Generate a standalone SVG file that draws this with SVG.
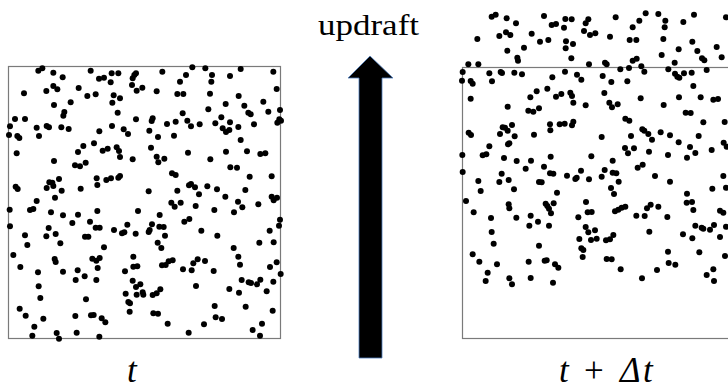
<svg xmlns="http://www.w3.org/2000/svg" width="728" height="390" viewBox="0 0 728 390">
<style>
.box{fill:none;stroke:#7a7a7a;stroke-width:1.2}
.d circle{fill:#000}
.lbl{font-family:"Liberation Serif","Times New Roman",serif;fill:#000}
.it{font-style:italic}
</style>
<rect width="728" height="390" fill="#fff"/>
<g id="panel-t">
<rect class="box" x="8.5" y="66.5" width="272" height="272"/>
<g class="d" transform="translate(0 50) scale(0.33333)">
<circle cx="115" cy="62" r="9"/><circle cx="127" cy="55" r="9"/><circle cx="160" cy="68" r="9"/><circle cx="188" cy="82" r="9"/><circle cx="272" cy="62" r="9"/><circle cx="297" cy="86" r="9"/><circle cx="312" cy="83" r="9"/><circle cx="335" cy="70" r="9"/><circle cx="355" cy="70" r="9"/><circle cx="332" cy="97" r="9"/><circle cx="398" cy="85" r="9"/><circle cx="403" cy="75" r="9"/><circle cx="408" cy="70" r="9"/><circle cx="396" cy="105" r="9"/><circle cx="410" cy="122" r="9"/><circle cx="427" cy="113" r="9"/><circle cx="470" cy="124" r="9"/><circle cx="487" cy="65" r="9"/><circle cx="540" cy="95" r="9"/><circle cx="558" cy="75" r="9"/><circle cx="577" cy="52" r="9"/><circle cx="616" cy="55" r="9"/><circle cx="636" cy="75" r="9"/><circle cx="634" cy="95" r="9"/><circle cx="690" cy="78" r="9"/><circle cx="722" cy="57" r="9"/><circle cx="820" cy="65" r="9"/><circle cx="830" cy="117" r="9"/><circle cx="72" cy="130" r="9"/><circle cx="139" cy="123" r="9"/><circle cx="160" cy="108" r="9"/><circle cx="172" cy="118" r="9"/><circle cx="236" cy="114" r="9"/><circle cx="262" cy="138" r="9"/><circle cx="287" cy="133" r="9"/><circle cx="341" cy="136" r="9"/><circle cx="360" cy="145" r="9"/><circle cx="337" cy="158" r="9"/><circle cx="532" cy="132" r="9"/><circle cx="550" cy="132" r="9"/><circle cx="630" cy="131" r="9"/><circle cx="625" cy="178" r="9"/><circle cx="677" cy="162" r="9"/><circle cx="716" cy="138" r="9"/><circle cx="733" cy="167" r="9"/><circle cx="745" cy="188" r="9"/><circle cx="752" cy="193" r="9"/><circle cx="790" cy="155" r="9"/><circle cx="805" cy="185" r="9"/><circle cx="840" cy="180" r="9"/><circle cx="838" cy="208" r="9"/><circle cx="843" cy="212" r="9"/><circle cx="832" cy="218" r="9"/>
<circle cx="162" cy="165" r="9"/><circle cx="212" cy="157" r="9"/><circle cx="193" cy="186" r="9"/><circle cx="190" cy="197" r="9"/><circle cx="45" cy="207" r="9"/><circle cx="75" cy="207" r="9"/><circle cx="30" cy="229" r="9"/><circle cx="27" cy="255" r="9"/><circle cx="52" cy="258" r="9"/><circle cx="58" cy="264" r="9"/><circle cx="110" cy="233" r="9"/><circle cx="140" cy="228" r="9"/><circle cx="147" cy="232" r="9"/><circle cx="184" cy="232" r="9"/><circle cx="206" cy="237" r="9"/><circle cx="117" cy="258" r="9"/><circle cx="50" cy="310" r="9"/><circle cx="298" cy="244" r="9"/><circle cx="336" cy="228" r="9"/><circle cx="371" cy="238" r="9"/><circle cx="384" cy="252" r="9"/><circle cx="353" cy="188" r="9"/><circle cx="408" cy="208" r="9"/><circle cx="458" cy="205" r="9"/><circle cx="455" cy="213" r="9"/><circle cx="448" cy="242" r="9"/><circle cx="474" cy="261" r="9"/><circle cx="501" cy="222" r="9"/><circle cx="527" cy="215" r="9"/><circle cx="522" cy="257" r="9"/><circle cx="548" cy="190" r="9"/><circle cx="562" cy="212" r="9"/><circle cx="573" cy="229" r="9"/><circle cx="599" cy="223" r="9"/><circle cx="646" cy="220" r="9"/><circle cx="664" cy="202" r="9"/><circle cx="690" cy="217" r="9"/><circle cx="668" cy="235" r="9"/><circle cx="678" cy="246" r="9"/><circle cx="688" cy="240" r="9"/><circle cx="715" cy="231" r="9"/><circle cx="762" cy="223" r="9"/><circle cx="722" cy="270" r="9"/>
<circle cx="234" cy="306" r="9"/><circle cx="250" cy="288" r="9"/><circle cx="282" cy="280" r="9"/><circle cx="308" cy="302" r="9"/><circle cx="323" cy="296" r="9"/><circle cx="350" cy="292" r="9"/><circle cx="357" cy="303" r="9"/><circle cx="360" cy="321" r="9"/><circle cx="398" cy="328" r="9"/><circle cx="453" cy="293" r="9"/><circle cx="470" cy="320" r="9"/><circle cx="475" cy="337" r="9"/><circle cx="493" cy="326" r="9"/><circle cx="564" cy="308" r="9"/><circle cx="631" cy="328" r="9"/><circle cx="678" cy="305" r="9"/><circle cx="741" cy="304" r="9"/><circle cx="781" cy="312" r="9"/><circle cx="796" cy="310" r="9"/><circle cx="162" cy="333" r="9"/><circle cx="225" cy="346" r="9"/><circle cx="240" cy="349" r="9"/><circle cx="257" cy="338" r="9"/>
<circle cx="691" cy="352" r="9"/><circle cx="711" cy="353" r="9"/><circle cx="749" cy="380" r="9"/><circle cx="815" cy="379" r="9"/><circle cx="516" cy="370" r="9"/><circle cx="527" cy="375" r="9"/><circle cx="290" cy="385" r="9"/><circle cx="292" cy="405" r="9"/><circle cx="319" cy="390" r="9"/><circle cx="333" cy="385" r="9"/><circle cx="355" cy="383" r="9"/><circle cx="360" cy="378" r="9"/><circle cx="47" cy="410" r="9"/><circle cx="53" cy="417" r="9"/><circle cx="140" cy="414" r="9"/><circle cx="148" cy="397" r="9"/><circle cx="157" cy="398" r="9"/><circle cx="160" cy="408" r="9"/><circle cx="165" cy="443" r="9"/><circle cx="177" cy="387" r="9"/><circle cx="185" cy="422" r="9"/><circle cx="242" cy="416" r="9"/><circle cx="446" cy="424" r="9"/><circle cx="532" cy="422" r="9"/><circle cx="542" cy="458" r="9"/><circle cx="514" cy="458" r="9"/><circle cx="524" cy="470" r="9"/><circle cx="567" cy="406" r="9"/><circle cx="573" cy="402" r="9"/><circle cx="585" cy="412" r="9"/><circle cx="597" cy="433" r="9"/><circle cx="587" cy="468" r="9"/><circle cx="622" cy="409" r="9"/><circle cx="651" cy="418" r="9"/><circle cx="676" cy="440" r="9"/><circle cx="714" cy="455" r="9"/><circle cx="736" cy="420" r="9"/><circle cx="727" cy="472" r="9"/><circle cx="702" cy="487" r="9"/><circle cx="775" cy="463" r="9"/><circle cx="815" cy="440" r="9"/><circle cx="821" cy="451" r="9"/><circle cx="831" cy="443" r="9"/><circle cx="643" cy="480" r="9"/>
<circle cx="29" cy="479" r="9"/><circle cx="90" cy="480" r="9"/><circle cx="100" cy="477" r="9"/><circle cx="110" cy="453" r="9"/><circle cx="153" cy="487" r="9"/><circle cx="189" cy="496" r="9"/><circle cx="234" cy="494" r="9"/><circle cx="217" cy="519" r="9"/><circle cx="270" cy="515" r="9"/><circle cx="292" cy="483" r="9"/><circle cx="287" cy="533" r="9"/><circle cx="299" cy="533" r="9"/><circle cx="342" cy="540" r="9"/><circle cx="366" cy="550" r="9"/><circle cx="373" cy="547" r="9"/><circle cx="382" cy="524" r="9"/><circle cx="407" cy="551" r="9"/><circle cx="414" cy="483" r="9"/><circle cx="446" cy="546" r="9"/><circle cx="449" cy="540" r="9"/><circle cx="456" cy="523" r="9"/><circle cx="479" cy="495" r="9"/><circle cx="478" cy="530" r="9"/><circle cx="491" cy="531" r="9"/><circle cx="495" cy="557" r="9"/><circle cx="30" cy="529" r="9"/><circle cx="75" cy="556" r="9"/><circle cx="82" cy="585" r="9"/><circle cx="146" cy="534" r="9"/><circle cx="139" cy="559" r="9"/><circle cx="167" cy="552" r="9"/><circle cx="181" cy="580" r="9"/><circle cx="255" cy="560" r="9"/><circle cx="265" cy="560" r="9"/><circle cx="553" cy="515" r="9"/><circle cx="568" cy="507" r="9"/><circle cx="604" cy="542" r="9"/><circle cx="652" cy="557" r="9"/><circle cx="778" cy="578" r="9"/><circle cx="809" cy="542" r="9"/><circle cx="840" cy="509" r="9"/><circle cx="837" cy="527" r="9"/><circle cx="821" cy="577" r="9"/>
<circle cx="40" cy="615" r="9"/><circle cx="61" cy="651" r="9"/><circle cx="164" cy="627" r="9"/><circle cx="167" cy="636" r="9"/><circle cx="189" cy="665" r="9"/><circle cx="114" cy="667" r="9"/><circle cx="116" cy="709" r="9"/><circle cx="121" cy="744" r="9"/><circle cx="227" cy="690" r="9"/><circle cx="233" cy="661" r="9"/><circle cx="254" cy="679" r="9"/><circle cx="277" cy="626" r="9"/><circle cx="289" cy="632" r="9"/><circle cx="299" cy="624" r="9"/><circle cx="293" cy="654" r="9"/><circle cx="289" cy="690" r="9"/><circle cx="312" cy="592" r="9"/><circle cx="375" cy="664" r="9"/><circle cx="400" cy="620" r="9"/><circle cx="400" cy="650" r="9"/><circle cx="412" cy="649" r="9"/><circle cx="473" cy="578" r="9"/><circle cx="484" cy="594" r="9"/><circle cx="486" cy="646" r="9"/><circle cx="497" cy="645" r="9"/><circle cx="506" cy="634" r="9"/><circle cx="518" cy="631" r="9"/><circle cx="549" cy="658" r="9"/><circle cx="575" cy="661" r="9"/><circle cx="580" cy="640" r="9"/><circle cx="593" cy="628" r="9"/><circle cx="615" cy="633" r="9"/><circle cx="641" cy="663" r="9"/><circle cx="701" cy="594" r="9"/><circle cx="715" cy="620" r="9"/><circle cx="720" cy="644" r="9"/><circle cx="725" cy="690" r="9"/><circle cx="746" cy="697" r="9"/><circle cx="753" cy="699" r="9"/><circle cx="771" cy="703" r="9"/><circle cx="781" cy="689" r="9"/><circle cx="820" cy="695" r="9"/><circle cx="800" cy="724" r="9"/><circle cx="688" cy="717" r="9"/><circle cx="717" cy="728" r="9"/><circle cx="810" cy="651" r="9"/><circle cx="830" cy="637" r="9"/><circle cx="842" cy="672" r="9"/><circle cx="588" cy="708" r="9"/>
<circle cx="398" cy="692" r="9"/><circle cx="408" cy="711" r="9"/><circle cx="421" cy="703" r="9"/><circle cx="428" cy="727" r="9"/><circle cx="430" cy="734" r="9"/><circle cx="410" cy="734" r="9"/><circle cx="377" cy="731" r="9"/><circle cx="385" cy="756" r="9"/><circle cx="390" cy="760" r="9"/><circle cx="389" cy="785" r="9"/><circle cx="458" cy="735" r="9"/><circle cx="470" cy="730" r="9"/><circle cx="481" cy="718" r="9"/><circle cx="460" cy="790" r="9"/><circle cx="474" cy="791" r="9"/><circle cx="503" cy="821" r="9"/><circle cx="566" cy="848" r="9"/><circle cx="612" cy="823" r="9"/><circle cx="644" cy="768" r="9"/><circle cx="647" cy="802" r="9"/><circle cx="666" cy="807" r="9"/><circle cx="737" cy="770" r="9"/><circle cx="758" cy="840" r="9"/><circle cx="786" cy="821" r="9"/><circle cx="780" cy="857" r="9"/><circle cx="818" cy="782" r="9"/><circle cx="258" cy="748" r="9"/><circle cx="226" cy="798" r="9"/><circle cx="273" cy="796" r="9"/><circle cx="281" cy="795" r="9"/><circle cx="305" cy="805" r="9"/><circle cx="316" cy="817" r="9"/><circle cx="298" cy="860" r="9"/><circle cx="230" cy="848" r="9"/><circle cx="170" cy="849" r="9"/><circle cx="177" cy="866" r="9"/><circle cx="97" cy="857" r="9"/><circle cx="103" cy="830" r="9"/><circle cx="130" cy="806" r="9"/><circle cx="77" cy="797" r="9"/><circle cx="59" cy="776" r="9"/>
</g>
<text class="lbl it" x="127" y="382" font-size="35">t</text>
</g>
<g id="panel-t-dt">
<rect class="box" x="462.5" y="67.5" width="272" height="271"/>
<g class="d" transform="translate(440 0) scale(0.33333)">
<circle cx="155" cy="50" r="9"/><circle cx="167" cy="44" r="9"/><circle cx="200" cy="55" r="9"/><circle cx="228" cy="70" r="9"/><circle cx="312" cy="48" r="9"/><circle cx="335" cy="75" r="9"/><circle cx="348" cy="72" r="9"/><circle cx="372" cy="83" r="9"/><circle cx="376" cy="57" r="9"/><circle cx="395" cy="58" r="9"/><circle cx="437" cy="70" r="9"/><circle cx="445" cy="58" r="9"/><circle cx="432" cy="93" r="9"/><circle cx="450" cy="105" r="9"/><circle cx="466" cy="100" r="9"/><circle cx="510" cy="110" r="9"/><circle cx="527" cy="52" r="9"/><circle cx="578" cy="82" r="9"/><circle cx="598" cy="62" r="9"/><circle cx="617" cy="40" r="9"/><circle cx="655" cy="42" r="9"/><circle cx="676" cy="62" r="9"/><circle cx="674" cy="82" r="9"/><circle cx="670" cy="117" r="9"/><circle cx="730" cy="66" r="9"/><circle cx="762" cy="44" r="9"/><circle cx="858" cy="52" r="9"/><circle cx="112" cy="117" r="9"/><circle cx="178" cy="108" r="9"/><circle cx="198" cy="97" r="9"/><circle cx="211" cy="105" r="9"/><circle cx="202" cy="152" r="9"/><circle cx="232" cy="173" r="9"/><circle cx="234" cy="182" r="9"/><circle cx="252" cy="143" r="9"/><circle cx="275" cy="101" r="9"/><circle cx="300" cy="125" r="9"/><circle cx="325" cy="120" r="9"/><circle cx="378" cy="124" r="9"/><circle cx="399" cy="132" r="9"/><circle cx="377" cy="145" r="9"/><circle cx="394" cy="175" r="9"/><circle cx="447" cy="193" r="9"/><circle cx="495" cy="188" r="9"/><circle cx="500" cy="193" r="9"/><circle cx="569" cy="120" r="9"/><circle cx="589" cy="120" r="9"/><circle cx="578" cy="182" r="9"/><circle cx="604" cy="199" r="9"/><circle cx="590" cy="176" r="9"/><circle cx="665" cy="165" r="9"/><circle cx="704" cy="188" r="9"/><circle cx="716" cy="148" r="9"/><circle cx="757" cy="125" r="9"/><circle cx="772" cy="153" r="9"/><circle cx="786" cy="175" r="9"/><circle cx="793" cy="181" r="9"/><circle cx="830" cy="141" r="9"/><circle cx="845" cy="172" r="9"/><circle cx="85" cy="193" r="9"/><circle cx="115" cy="193" r="9"/>
<circle cx="68" cy="216" r="9"/><circle cx="66" cy="242" r="9"/><circle cx="92" cy="243" r="9"/><circle cx="98" cy="251" r="9"/><circle cx="148" cy="220" r="9"/><circle cx="156" cy="244" r="9"/><circle cx="182" cy="216" r="9"/><circle cx="186" cy="219" r="9"/><circle cx="223" cy="218" r="9"/><circle cx="246" cy="223" r="9"/><circle cx="337" cy="232" r="9"/><circle cx="375" cy="215" r="9"/><circle cx="411" cy="224" r="9"/><circle cx="424" cy="239" r="9"/><circle cx="488" cy="228" r="9"/><circle cx="514" cy="246" r="9"/><circle cx="541" cy="208" r="9"/><circle cx="567" cy="204" r="9"/><circle cx="562" cy="244" r="9"/><circle cx="613" cy="215" r="9"/><circle cx="685" cy="208" r="9"/><circle cx="705" cy="221" r="9"/><circle cx="712" cy="230" r="9"/><circle cx="718" cy="233" r="9"/><circle cx="732" cy="220" r="9"/><circle cx="755" cy="218" r="9"/><circle cx="800" cy="210" r="9"/><circle cx="760" cy="258" r="9"/><circle cx="92" cy="296" r="9"/><circle cx="271" cy="292" r="9"/><circle cx="290" cy="274" r="9"/><circle cx="322" cy="266" r="9"/><circle cx="348" cy="290" r="9"/><circle cx="364" cy="282" r="9"/><circle cx="391" cy="278" r="9"/><circle cx="396" cy="288" r="9"/><circle cx="400" cy="308" r="9"/><circle cx="437" cy="316" r="9"/><circle cx="493" cy="279" r="9"/><circle cx="508" cy="308" r="9"/><circle cx="516" cy="322" r="9"/><circle cx="533" cy="313" r="9"/><circle cx="602" cy="295" r="9"/><circle cx="671" cy="315" r="9"/><circle cx="717" cy="292" r="9"/><circle cx="737" cy="338" r="9"/><circle cx="752" cy="339" r="9"/><circle cx="782" cy="292" r="9"/><circle cx="820" cy="299" r="9"/><circle cx="834" cy="297" r="9"/><circle cx="854" cy="366" r="9"/>
<circle cx="203" cy="320" r="9"/><circle cx="265" cy="332" r="9"/><circle cx="280" cy="335" r="9"/><circle cx="297" cy="325" r="9"/><circle cx="330" cy="373" r="9"/><circle cx="331" cy="391" r="9"/><circle cx="359" cy="373" r="9"/><circle cx="374" cy="371" r="9"/><circle cx="396" cy="376" r="9"/><circle cx="400" cy="365" r="9"/><circle cx="556" cy="356" r="9"/><circle cx="568" cy="362" r="9"/><circle cx="188" cy="382" r="9"/><circle cx="195" cy="383" r="9"/><circle cx="203" cy="392" r="9"/><circle cx="216" cy="375" r="9"/><circle cx="180" cy="402" r="9"/><circle cx="224" cy="409" r="9"/><circle cx="208" cy="430" r="9"/><circle cx="204" cy="433" r="9"/><circle cx="282" cy="404" r="9"/><circle cx="86" cy="398" r="9"/><circle cx="93" cy="405" r="9"/><circle cx="148" cy="439" r="9"/><circle cx="128" cy="466" r="9"/><circle cx="139" cy="463" r="9"/><circle cx="485" cy="411" r="9"/><circle cx="573" cy="408" r="9"/><circle cx="607" cy="388" r="9"/><circle cx="613" cy="392" r="9"/><circle cx="625" cy="402" r="9"/><circle cx="636" cy="419" r="9"/><circle cx="662" cy="397" r="9"/><circle cx="690" cy="406" r="9"/><circle cx="716" cy="427" r="9"/><circle cx="750" cy="441" r="9"/><circle cx="766" cy="459" r="9"/><circle cx="790" cy="367" r="9"/><circle cx="776" cy="408" r="9"/><circle cx="627" cy="455" r="9"/><circle cx="684" cy="465" r="9"/><circle cx="741" cy="473" r="9"/><circle cx="555" cy="444" r="9"/><circle cx="564" cy="460" r="9"/><circle cx="582" cy="445" r="9"/><circle cx="815" cy="450" r="9"/><circle cx="851" cy="428" r="9"/><circle cx="860" cy="440" r="9"/>
<circle cx="67" cy="465" r="9"/><circle cx="68" cy="516" r="9"/><circle cx="192" cy="474" r="9"/><circle cx="230" cy="483" r="9"/><circle cx="273" cy="482" r="9"/><circle cx="257" cy="506" r="9"/><circle cx="312" cy="500" r="9"/><circle cx="330" cy="520" r="9"/><circle cx="340" cy="521" r="9"/><circle cx="332" cy="470" r="9"/><circle cx="381" cy="527" r="9"/><circle cx="406" cy="537" r="9"/><circle cx="410" cy="533" r="9"/><circle cx="423" cy="512" r="9"/><circle cx="447" cy="538" r="9"/><circle cx="454" cy="469" r="9"/><circle cx="485" cy="530" r="9"/><circle cx="494" cy="510" r="9"/><circle cx="518" cy="482" r="9"/><circle cx="518" cy="518" r="9"/><circle cx="529" cy="520" r="9"/><circle cx="536" cy="545" r="9"/><circle cx="593" cy="503" r="9"/><circle cx="608" cy="494" r="9"/><circle cx="645" cy="528" r="9"/><circle cx="690" cy="545" r="9"/><circle cx="115" cy="543" r="9"/><circle cx="122" cy="573" r="9"/><circle cx="178" cy="546" r="9"/><circle cx="185" cy="521" r="9"/><circle cx="206" cy="540" r="9"/><circle cx="222" cy="568" r="9"/><circle cx="297" cy="546" r="9"/><circle cx="305" cy="547" r="9"/><circle cx="351" cy="578" r="9"/><circle cx="513" cy="564" r="9"/><circle cx="522" cy="582" r="9"/><circle cx="741" cy="581" r="9"/><circle cx="817" cy="566" r="9"/><circle cx="850" cy="528" r="9"/><circle cx="858" cy="563" r="9"/>
<circle cx="78" cy="603" r="9"/><circle cx="101" cy="637" r="9"/><circle cx="153" cy="654" r="9"/><circle cx="155" cy="696" r="9"/><circle cx="161" cy="731" r="9"/><circle cx="206" cy="613" r="9"/><circle cx="208" cy="625" r="9"/><circle cx="229" cy="653" r="9"/><circle cx="268" cy="677" r="9"/><circle cx="272" cy="647" r="9"/><circle cx="294" cy="665" r="9"/><circle cx="317" cy="611" r="9"/><circle cx="322" cy="618" r="9"/><circle cx="327" cy="626" r="9"/><circle cx="341" cy="610" r="9"/><circle cx="333" cy="640" r="9"/><circle cx="327" cy="677" r="9"/><circle cx="415" cy="652" r="9"/><circle cx="437" cy="681" r="9"/><circle cx="438" cy="606" r="9"/><circle cx="443" cy="637" r="9"/><circle cx="455" cy="636" r="9"/><circle cx="445" cy="697" r="9"/><circle cx="453" cy="720" r="9"/><circle cx="465" cy="691" r="9"/><circle cx="470" cy="716" r="9"/><circle cx="418" cy="717" r="9"/><circle cx="498" cy="721" r="9"/><circle cx="510" cy="718" r="9"/><circle cx="520" cy="705" r="9"/><circle cx="525" cy="634" r="9"/><circle cx="535" cy="629" r="9"/><circle cx="545" cy="623" r="9"/><circle cx="556" cy="620" r="9"/><circle cx="589" cy="647" r="9"/><circle cx="614" cy="648" r="9"/><circle cx="621" cy="625" r="9"/><circle cx="632" cy="614" r="9"/><circle cx="655" cy="620" r="9"/><circle cx="682" cy="651" r="9"/><circle cx="628" cy="695" r="9"/><circle cx="740" cy="608" r="9"/><circle cx="756" cy="606" r="9"/><circle cx="760" cy="630" r="9"/><circle cx="729" cy="703" r="9"/><circle cx="757" cy="715" r="9"/><circle cx="766" cy="677" r="9"/><circle cx="785" cy="683" r="9"/><circle cx="790" cy="686" r="9"/><circle cx="810" cy="689" r="9"/><circle cx="822" cy="675" r="9"/><circle cx="840" cy="711" r="9"/><circle cx="850" cy="638" r="9"/><circle cx="858" cy="680" r="9"/><circle cx="840" cy="632" r="9"/>
<circle cx="98" cy="763" r="9"/><circle cx="118" cy="785" r="9"/><circle cx="143" cy="818" r="9"/><circle cx="137" cy="843" r="9"/><circle cx="171" cy="793" r="9"/><circle cx="208" cy="835" r="9"/><circle cx="216" cy="853" r="9"/><circle cx="266" cy="785" r="9"/><circle cx="272" cy="834" r="9"/><circle cx="297" cy="737" r="9"/><circle cx="314" cy="782" r="9"/><circle cx="320" cy="781" r="9"/><circle cx="345" cy="793" r="9"/><circle cx="355" cy="803" r="9"/><circle cx="339" cy="848" r="9"/><circle cx="424" cy="745" r="9"/><circle cx="430" cy="750" r="9"/><circle cx="428" cy="771" r="9"/><circle cx="500" cy="777" r="9"/><circle cx="515" cy="778" r="9"/><circle cx="542" cy="808" r="9"/><circle cx="606" cy="835" r="9"/><circle cx="651" cy="810" r="9"/><circle cx="684" cy="755" r="9"/><circle cx="686" cy="789" r="9"/><circle cx="706" cy="794" r="9"/><circle cx="778" cy="757" r="9"/><circle cx="800" cy="825" r="9"/><circle cx="820" cy="808" r="9"/><circle cx="822" cy="843" r="9"/><circle cx="855" cy="768" r="9"/>
</g>
<text class="lbl it" y="382" font-size="35"><tspan x="559">t</tspan><tspan x="584" font-style="normal">+</tspan><tspan x="620">Δ</tspan><tspan x="643">t</tspan></text>
</g>
<g id="connectors">
<path id="updraft-arrow" d="M370,56 L393,78 L382,78 L382,358 L359,358 L359,78 L348,78 Z" fill="#000" stroke="#4f7fbf" stroke-width="0.8" stroke-linejoin="miter"/>
</g>
<text id="updraft-label" class="lbl" x="318" y="35" font-size="29" textLength="101" lengthAdjust="spacingAndGlyphs">updraft</text>
</svg>
